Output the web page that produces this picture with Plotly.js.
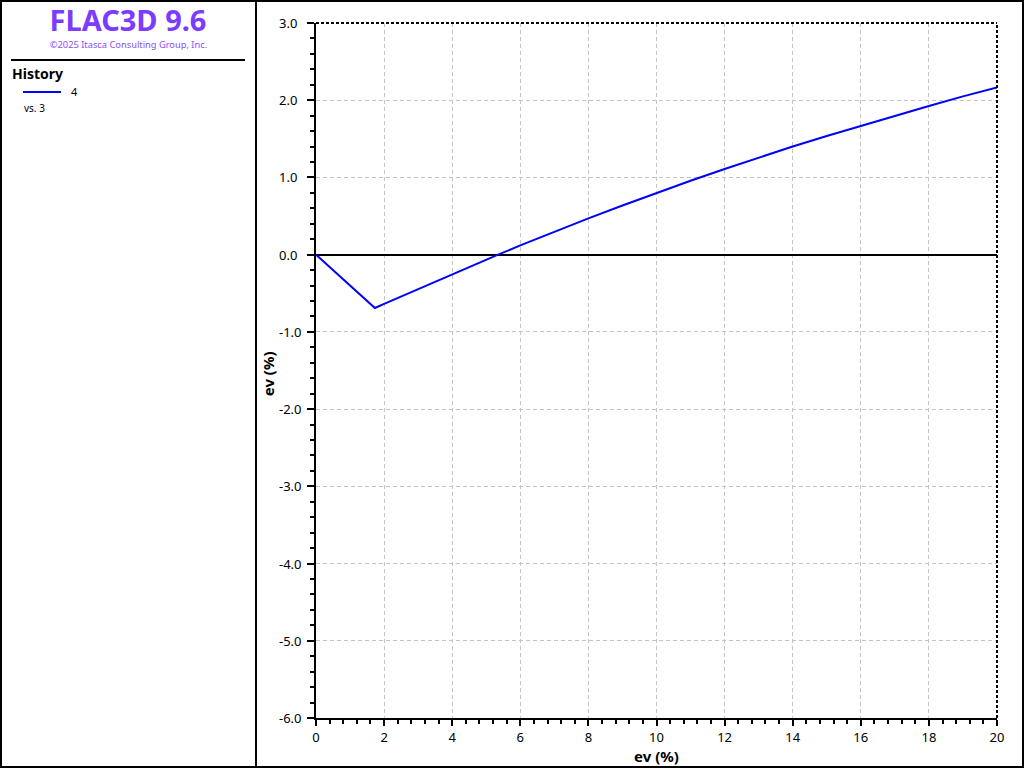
<!DOCTYPE html>
<html>
<head>
<meta charset="utf-8">
<script src="https://cdn.plot.ly/plotly-3.0.1.min.js"></script>
<style>
  html, body { margin: 0; padding: 0; background: #fff; }
  #wrap { position: relative; width: 1024px; height: 768px; overflow: hidden; }
  #chart { position: absolute; left: 0; top: 0; width: 1024px; height: 768px; }
  .box { position: absolute; border: 2px solid #000; box-sizing: border-box; pointer-events: none; }
  .txt { position: absolute; font-family: "Noto Sans", "Open Sans", sans-serif; white-space: nowrap; pointer-events: none; }
</style>
</head>
<body>
<div id="wrap">
  <div id="chart"></div>
  <div class="box" style="left:0;top:0;width:1024px;height:768px;"></div>
  <div class="box" style="left:255px;top:0;width:2px;height:768px;border-width:0 0 0 2px;"></div>
  <div class="txt" id="ttl" style="left:0;width:256px;top:0px;text-align:center;font-size:29px;font-weight:bold;color:#7b3cff;"></div>
  <div class="txt" id="cpy" style="left:0;width:257px;top:38px;text-align:center;font-size:9.3px;color:#8a4dff;"></div>
  <div style="position:absolute;left:11px;top:59px;width:234px;height:2px;background:#000;"></div>
  <div class="txt" id="hist" style="left:12px;top:64px;font-size:14px;font-weight:bold;color:#000;"></div>
  <div style="position:absolute;left:23px;top:91px;width:38px;height:2px;background:#0000ff;"></div>
  <div class="txt" id="lg" style="left:71px;top:84px;font-size:11px;color:#000;"></div>
  <div class="txt" id="vs" style="left:24px;top:101px;font-size:10px;color:#000;"></div>
</div>
<script>
// ---- labels ----
const titleText = "FLAC3D 9.6";
const copyrightText = "©2025 Itasca Consulting Group, Inc.";
const legendHeader = "History";
const seriesName = "4";
const seriesVs = "vs. 3";
const xTitle = "ev (%)";
const yTitle = "ev (%)";

// ---- data ----
const xvals = [0, 1.73, 2, 3, 4, 5, 5.35, 6, 7, 8, 9, 10, 11, 12, 13, 14, 15, 16, 17, 18, 19, 20];
const yvals = [0, -0.69, -0.637, -0.445, -0.255, -0.065, 0, 0.12, 0.297, 0.47, 0.637, 0.80, 0.957, 1.11, 1.257, 1.40, 1.537, 1.67, 1.80, 1.926, 2.05, 2.166];

// ---- ticks ----
const yTickVals = [3, 2, 1, 0, -1, -2, -3, -4, -5, -6];
const yTickText = ["3.0", "2.0", "1.0", "0.0", "-1.0", "-2.0", "-3.0", "-4.0", "-5.0", "-6.0"];
const xTickVals = [0, 2, 4, 6, 8, 10, 12, 14, 16, 18, 20];

document.getElementById('ttl').textContent = titleText;
document.getElementById('cpy').textContent = copyrightText;
document.getElementById('hist').textContent = legendHeader;
document.getElementById('lg').textContent = seriesName;
document.getElementById('vs').textContent = seriesVs;

const font = "Noto Sans, Open Sans, sans-serif";

const trace = {
  x: xvals, y: yvals, type: 'scatter', mode: 'lines',
  line: { color: '#0000ff', width: 2 },
  showlegend: false, hoverinfo: 'skip'
};

// left-aligned y tick labels (as in the reference), placed on the y scale
const yLabelAnns = yTickVals.map((v, i) => ({
  xref: 'paper', yref: 'y', x: -0.0573, y: v, xanchor: 'left', yanchor: 'middle',
  text: yTickText[i], showarrow: false, font: { size: 13, family: font, color: '#000' }
}));

const layout = {
  width: 1024, height: 768,
  margin: { l: 316, r: 27, t: 23, b: 50, pad: 0 },
  paper_bgcolor: 'rgba(0,0,0,0)', plot_bgcolor: '#fff',
  font: { family: font, size: 13, color: '#000' },
  showlegend: false,
  xaxis: {
    range: [0, 20], tickvals: xTickVals,
    ticks: 'outside', ticklen: 6, tickwidth: 2, tickcolor: '#000',
    minor: { dtick: 0.4, ticks: 'outside', ticklen: 4, tickwidth: 2, tickcolor: '#000', showgrid: false },
    showline: true, linecolor: '#000', linewidth: 2,
    showgrid: true, gridcolor: '#c4c4c4', griddash: '4px,3px', gridwidth: 1,
    zeroline: false,
    tickfont: { size: 13, family: font },
    title: { text: xTitle, font: { size: 15, family: font, weight: 'bold' }, standoff: 2 }
  },
  yaxis: {
    range: [-6, 3], tickvals: yTickVals, showticklabels: false,
    ticks: 'outside', ticklen: 7, tickwidth: 2, tickcolor: '#000',
    minor: { dtick: 0.2, ticks: 'outside', ticklen: 4, tickwidth: 2, tickcolor: '#000', showgrid: false },
    showline: true, linecolor: '#000', linewidth: 2,
    showgrid: true, gridcolor: '#c4c4c4', griddash: '4px,3px', gridwidth: 1,
    zeroline: true, zerolinecolor: '#000', zerolinewidth: 2
  },
  annotations: yLabelAnns.concat([
    { xref: 'paper', yref: 'paper', x: -0.0705, y: 0.496, xanchor: 'center', yanchor: 'middle',
      textangle: -90, text: '<b>' + yTitle + '</b>', showarrow: false,
      font: { size: 15, family: font, color: '#000' } }
  ]),
  shapes: [
    { type: 'line', xref: 'paper', yref: 'paper', x0: 0, x1: 1, y0: 1, y1: 1,
      line: { color: '#000', width: 2, dash: '3px,2px' } },
    { type: 'line', xref: 'paper', yref: 'paper', x0: 1, x1: 1, y0: 0, y1: 1,
      line: { color: '#000', width: 2, dash: '3px,2px' } }
  ]
};

Plotly.newPlot('chart', [trace], layout, { staticPlot: true, displayModeBar: false });
</script>
</body>
</html>
